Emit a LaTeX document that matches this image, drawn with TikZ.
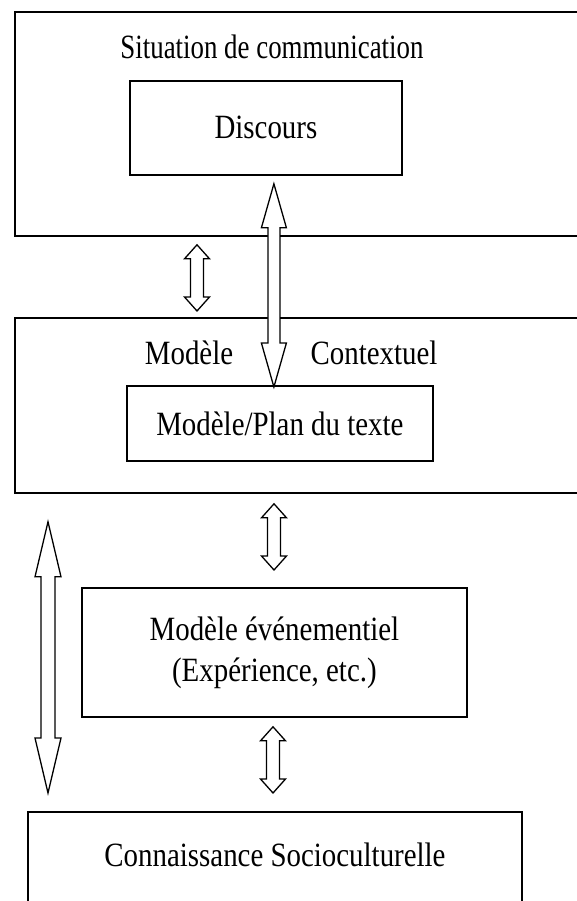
\documentclass[tikz,border=0pt]{standalone}
\usepackage{fontspec}
\setmainfont{Liberation Serif}[FakeStretch=0.85]
\usetikzlibrary{calc}
\tikzset{
  box/.style={draw, line width=1.8pt, anchor=north west, inner sep=0pt, align=center,
    font=\fontsize{34}{41}\selectfont},
  lbl/.style={font=\fontsize{34}{41}\selectfont, inner sep=0pt, align=center},
  hollow/.style={draw, line width=1.3pt, fill=white, line join=miter},
}
\newcommand\harrow[5]{% top, bottom, shaft half, head half, head length
  \draw[hollow] let \p1=(#1), \p2=(#2) in
   (\x1,\y1) -- (\x1+#4pt,\y1-#5pt) -- (\x1+#3pt,\y1-#5pt) -- (\x1+#3pt,\y2+#5pt)
   -- (\x1+#4pt,\y2+#5pt) -- (\x1,\y2) -- (\x1-#4pt,\y2+#5pt) -- (\x1-#3pt,\y2+#5pt)
   -- (\x1-#3pt,\y1-#5pt) -- (\x1-#4pt,\y1-#5pt) -- cycle;
}
\begin{document}
\begin{tikzpicture}[x=1pt,y=1pt]
\useasboundingbox (0,0) rectangle (577,-901);
\clip (0,0) rectangle (577,-901);
\fill[white] (0,0) rectangle (577,-901);
% top box
\node[box, minimum width=600pt, minimum height=224pt] (situation) at (14,-11) {};
\node[lbl] (sittitle) at (272,-47) {\scalebox{0.93}[1]{Situation de communication}};
\node[box, minimum width=272pt, minimum height=94pt] (discours) at (129,-80) {Discours};
% middle box
\node[box, minimum width=600pt, minimum height=175pt] (contexte) at (14,-317) {};
\node[lbl] (modele) at (189,-353) {Modèle};
\node[lbl] (contextuel) at (374,-353) {Contextuel};
\node[box, minimum width=306pt, minimum height=75pt] (plan) at (126,-385) {Modèle/Plan du texte};
% evenementiel
\node[box, minimum width=385pt, minimum height=129pt] (evenement) at (81,-587)
  {Modèle événementiel\\(Expérience, etc.)};
% bottom box
\node[box, minimum width=494pt, minimum height=150pt] (socio) at (27,-811) {};
\node[lbl] (sociotext) at (275,-855) {Connaissance Socioculturelle};
% arrow end points
\coordinate (a1t) at ($(situation.south west)+(183,-8)$);
\coordinate (a1b) at ($(contexte.north west)+(183,6)$);
\coordinate (a2t) at ($(discours.south)+(8,-8)$);
\coordinate (a2b) at ($(plan.north)+(-6,-2)$);
\coordinate (a3t) at ($(contexte.south west)+(260,-10)$);
\coordinate (a3b) at ($(evenement.north west)+(193,17)$);
\coordinate (a4t) at ($(evenement.south west)+(192,-9)$);
\coordinate (a4b) at ($(socio.north west)+(246,18)$);
\coordinate (a5t) at ($(contexte.south west)+(34,-28)$);
\coordinate (a5b) at ($(socio.north west)+(21,18)$);
% arrows
\harrow{a1t}{a1b}{6.5}{12.5}{14}
\harrow{a2t}{a2b}{6}{12.5}{44}
\harrow{a3t}{a3b}{6.5}{12.5}{14}
\harrow{a4t}{a4b}{6.5}{12.5}{14}
\harrow{a5t}{a5b}{7}{13}{55}
\end{tikzpicture}
\end{document}
